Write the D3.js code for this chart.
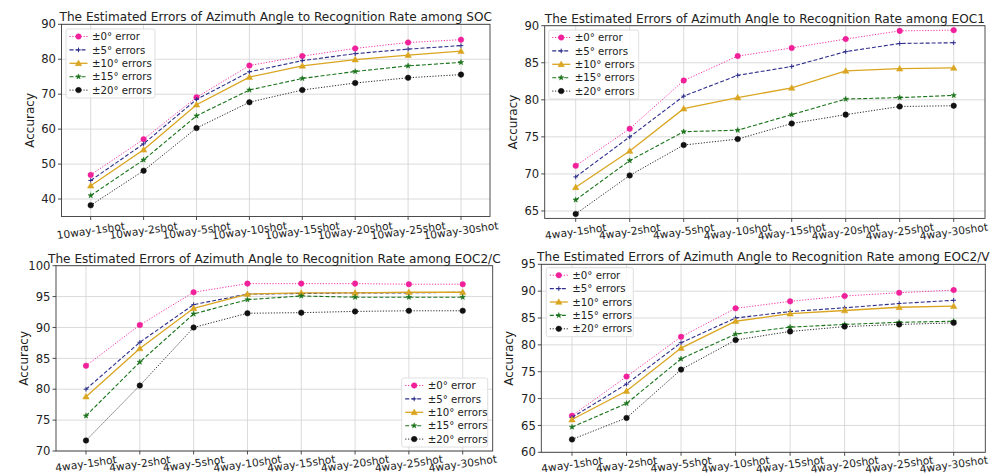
<!DOCTYPE html>
<html><head><meta charset="utf-8">
<script src="https://cdn.jsdelivr.net/npm/d3@7"></script>
<style>body{margin:0;background:#fff} svg{display:block} text{font-family:"DejaVu Sans",sans-serif;fill:#222}</style>
</head><body><svg id="c" width="997" height="476"></svg>
<script>
// ---------- DATA ----------
const seriesNames = ["±0° error", "±5° errors", "±10° errors", "±15° errors", "±20° errors"];
const socLabels = ["10way-1shot","10way-2shot","10way-5shot","10way-10shot","10way-15shot","10way-20shot","10way-25shot","10way-30shot"];
const eocLabels = ["4way-1shot","4way-2shot","4way-5shot","4way-10shot","4way-15shot","4way-20shot","4way-25shot","4way-30shot"];

const socTicks = [40, 50, 60, 70, 80, 90];
const eoc1Ticks = [65, 70, 75, 80, 85, 90];
const eoc2cTicks = [70, 75, 80, 85, 90, 95, 100];
const eoc2vTicks = [60, 65, 70, 75, 80, 85, 90, 95];

const socValues = [
  [46.9, 57.1, 69.1, 78.2, 80.9, 83.1, 84.8, 85.6],
  [45.3, 55.8, 68.5, 76.4, 79.6, 81.6, 82.9, 83.9],
  [43.8, 54.1, 67.0, 74.9, 78.1, 79.9, 81.2, 82.3],
  [41.0, 51.2, 63.8, 71.2, 74.5, 76.5, 78.1, 79.1],
  [38.2, 48.1, 60.3, 67.7, 71.2, 73.2, 74.7, 75.6]
];
const eoc1Values = [
  [71.1, 76.1, 82.6, 85.9, 87.0, 88.2, 89.3, 89.4],
  [69.6, 75.0, 80.5, 83.3, 84.5, 86.5, 87.6, 87.7],
  [68.2, 73.1, 78.8, 80.3, 81.6, 83.9, 84.2, 84.3],
  [66.5, 71.8, 75.7, 75.9, 78.0, 80.1, 80.3, 80.6],
  [64.6, 69.8, 73.9, 74.7, 76.8, 78.0, 79.1, 79.2]
];
const eoc2cValues = [
  [83.8, 90.4, 95.7, 97.1, 97.1, 97.1, 97.0, 97.0],
  [80.0, 87.6, 93.7, 95.4, 95.5, 95.6, 95.6, 95.7],
  [78.8, 86.6, 93.1, 95.4, 95.6, 95.6, 95.7, 95.7],
  [75.7, 84.4, 92.2, 94.5, 95.1, 94.9, 94.9, 94.9],
  [71.7, 80.6, 90.0, 92.3, 92.4, 92.6, 92.7, 92.7]
];
const eoc2vValues = [
  [66.8, 74.1, 81.5, 86.8, 88.1, 89.1, 89.7, 90.2],
  [66.5, 72.7, 80.4, 85.0, 86.2, 86.9, 87.7, 88.3],
  [66.1, 71.4, 79.4, 84.4, 85.8, 86.4, 87.0, 87.2],
  [64.7, 69.1, 77.4, 82.0, 83.3, 83.8, 84.2, 84.4],
  [62.4, 66.4, 75.4, 80.9, 82.5, 83.4, 83.8, 84.1]
];

// ---------- STYLE / LAYOUT ----------
const styles = [
  {color: "#f0209a", dash: "1.2,1.6", width: 0.9, marker: "circle", msize: 24},
  {color: "#2e2e8c", dash: "4,2", width: 1.1, marker: "plus", msize: 2.3},
  {color: "#daa520", dash: null, width: 1.3, marker: "triangle", msize: 18},
  {color: "#1a731a", dash: "4,2", width: 1.1, marker: "star", msize: 9},
  {color: "#111111", dash: "1.2,1.6", width: 0.9, marker: "circle", msize: 24}
];

const panels = [
  {title: "The Estimated Errors of Azimuth Angle to Recognition Rate among SOC",
   labels: socLabels, ticks: socTicks, values: socValues, ydom: [35, 90],
   fx: [61.5, 490], tx: [90.7, 461], yr: [216.5, 24.3], leg: [66, 29, 89], lo: 14},
  {title: "The Estimated Errors of Azimuth Angle to Recognition Rate among EOC1",
   labels: eocLabels, ticks: eoc1Ticks, values: eoc1Values, ydom: [64, 90],
   fx: [544.7, 985], tx: [575.7, 953.7], yr: [218.4, 25.7], leg: [548.7, 30, 90], lo: 13},
  {title: "The Estimated Errors of Azimuth Angle to Recognition Rate among EOC2/C",
   labels: eocLabels, ticks: eoc2cTicks, values: eoc2cValues, ydom: [70, 100],
   fx: [56, 492.7], tx: [86, 462.7], yr: [451, 265.7], leg: [401.7, 378, 86], lo: 12.5},
  {title: "The Estimated Errors of Azimuth Angle to Recognition Rate among EOC2/V",
   labels: eocLabels, ticks: eoc2vTicks, values: eoc2vValues, ydom: [60, 95],
   fx: [541.3, 985.3], tx: [572, 953.7], yr: [452.3, 264.3], leg: [546.3, 267.7, 87], lo: 12}
];

const svg = d3.select("#c");

function drawMarker(g, st, x, y) {
  if (st.marker === "plus") {
    const s = st.msize;
    g.append("path").attr("d", `M${x - s},${y}H${x + s}M${x},${y - s}V${y + s}`)
      .attr("stroke", st.color).attr("stroke-width", 1).attr("fill", "none");
  } else {
    const type = st.marker === "circle" ? d3.symbolCircle : st.marker === "triangle" ? d3.symbolTriangle : d3.symbolStar;
    const dy = st.marker === "triangle" ? 0.5 : 0;
    g.append("path").attr("d", d3.symbol().type(type).size(st.msize)())
      .attr("transform", `translate(${x},${y + dy})`)
      .attr("fill", st.color).attr("stroke", st.color).attr("stroke-width", 0.5);
  }
}

panels.forEach(p => {
  const g = svg.append("g");
  const x = d3.scaleLinear().domain([0, p.labels.length - 1]).range(p.tx);
  const y = d3.scaleLinear().domain(p.ydom).range(p.yr);
  const [x0, x1] = p.fx;
  const [yb, yt] = p.yr;

  // grid
  g.selectAll(".gx").data(p.labels).join("line")
    .attr("x1", (d, i) => x(i)).attr("x2", (d, i) => x(i))
    .attr("y1", yb).attr("y2", yt).attr("stroke", "#d2d2d2").attr("stroke-width", 0.8);
  g.selectAll(".gy").data(p.ticks).join("line")
    .attr("x1", x0).attr("x2", x1).attr("y1", d => y(d)).attr("y2", d => y(d))
    .attr("stroke", "#d2d2d2").attr("stroke-width", 0.8);

  // series
  const line = d3.line().x((d, i) => x(i)).y(d => y(d));
  p.values.forEach((vals, si) => {
    const st = styles[si];
    g.append("path").datum(vals).attr("d", line).attr("fill", "none")
      .attr("stroke", st.color).attr("stroke-width", st.width)
      .attr("stroke-dasharray", st.dash);
    vals.forEach((v, i) => drawMarker(g, st, x(i), y(v)));
  });

  // frame
  g.append("rect").attr("x", x0).attr("y", yt).attr("width", x1 - x0).attr("height", yb - yt)
    .attr("fill", "none").attr("stroke", "#3a3a3a").attr("stroke-width", 0.9);

  // y ticks
  p.ticks.forEach(t => {
    g.append("line").attr("x1", x0 - 3.5).attr("x2", x0).attr("y1", y(t)).attr("y2", y(t))
      .attr("stroke", "#3a3a3a").attr("stroke-width", 0.9);
    g.append("text").attr("x", x0 - 5.5).attr("y", y(t)).attr("dy", "0.36em")
      .attr("text-anchor", "end").attr("font-size", 11.6).text(t);
  });
  // x ticks
  p.labels.forEach((l, i) => {
    g.append("line").attr("x1", x(i)).attr("x2", x(i)).attr("y1", yb).attr("y2", yb + 3.5)
      .attr("stroke", "#3a3a3a").attr("stroke-width", 0.9);
    g.append("text").attr("transform", `translate(${x(i)},${yb + p.lo}) rotate(-8)`)
      .attr("text-anchor", "middle").attr("dy", "0.36em").attr("font-size", 10.7).text(l);
  });

  // y label
  g.append("text").attr("transform", `translate(${x0 - 28},${(yb + yt) / 2}) rotate(-90)`)
    .attr("text-anchor", "middle").attr("font-size", 12).text("Accuracy");

  // title
  g.append("text").attr("x", (x0 + x1) / 2).attr("y", yt - 3)
    .attr("text-anchor", "middle").attr("font-size", 12.1).text(p.title);

  // legend
  const [lx, ly, lw] = p.leg;
  const lg = g.append("g");
  lg.append("rect").attr("x", lx).attr("y", ly).attr("width", lw).attr("height", 69)
    .attr("rx", 2).attr("fill", "rgba(255,255,255,0.85)").attr("stroke", "#d8d8d8").attr("stroke-width", 0.8);
  seriesNames.forEach((n, si) => {
    const st = styles[si];
    const ry = ly + 7.5 + si * 13.4;
    lg.append("line").attr("x1", lx + 3.5).attr("x2", lx + 21.5).attr("y1", ry).attr("y2", ry)
      .attr("stroke", st.color).attr("stroke-width", st.width).attr("stroke-dasharray", st.dash);
    drawMarker(lg, st, lx + 12.5, ry);
    lg.append("text").attr("x", lx + 26).attr("y", ry).attr("dy", "0.36em")
      .attr("font-size", 10.2).text(n);
  });
});
</script></body></html>
